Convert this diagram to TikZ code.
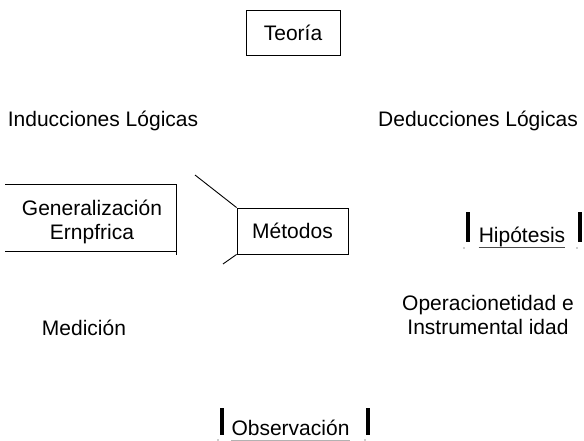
\documentclass[tikz,border=0pt]{standalone}
\usepackage{fontspec}
\setmainfont{Liberation Sans}
\usepackage{tikz}
\tikzstyle{caja}=[draw, line width=0.9pt, inner sep=0pt, font=\fontsize{21}{24}\selectfont]
\tikzstyle{texto}=[inner sep=0pt, align=center, font=\fontsize{21}{24}\selectfont]
\tikzstyle{palabra}=[inner sep=0pt, text depth=5pt, font=\fontsize{21}{24}\selectfont]
\tikzstyle{barra}=[line width=3.8pt]
\tikzstyle{linea}=[line width=0.9pt]
\tikzstyle{subraya}=[line width=0.9pt]
\tikzstyle{punto}=[fill=black!40]
\newcommand{\caja}{\node[caja]}
\newcommand{\texto}{\node[texto]}

\begin{document}
\begin{tikzpicture}[x=1pt, y=-1pt]
\useasboundingbox (0,0) rectangle (584,441);
\caja[minimum width=94pt, minimum height=45pt] (teo) at (293,32.5) {Teoría};
\texto[anchor=base] (ind) at (103,127) {Inducciones Lógicas};
\texto[anchor=base] (ded) at (478,127) {Deducciones Lógicas};
\texto (gen) at (92,221.6) {Generalización\\Ernpfrica};
\caja[minimum width=111pt, minimum height=46pt] (met) at (292.5,231) {Métodos};
\node[palabra, anchor=base] (hip) at (522,242) {Hipótesis};
\texto[anchor=base] (med) at (84,335) {Medición};
\texto (ope) at (488,315.4) {Operacionetidad e\\Instrumental idad};
\node[palabra, anchor=base] (obs) at (290.5,435) {Observación};
\coordinate (d1) at (195,175);
\coordinate (d2) at (223,264);
% caja abierta
\draw[linea] (5,184) -- (176,184) -- (176,255);
\draw[linea] (5,251) -- (176,251);
\draw[linea] (d1) -- (met.north west);
\draw[linea] (met.south west) -- (d2);
% barras
\draw[barra] (468,212) -- (468,242);
\draw[barra] (580,212) -- (580,242);
\draw[barra] (222,408) -- (222,435);
\draw[barra] (368,408) -- (368,435);
\draw[subraya, black!70] (hip.south west) -- (hip.south east);
\draw[subraya, black!30] (obs.south west) -- (obs.south east);
%\fill[punto] (464,248) circle (0.8);
\fill[punto] (464,248) circle (0.8) (577,248) circle (0.8);
\fill[punto] (218,440) circle (0.8) (365,440) circle (0.8);
\end{tikzpicture}
\end{document}
